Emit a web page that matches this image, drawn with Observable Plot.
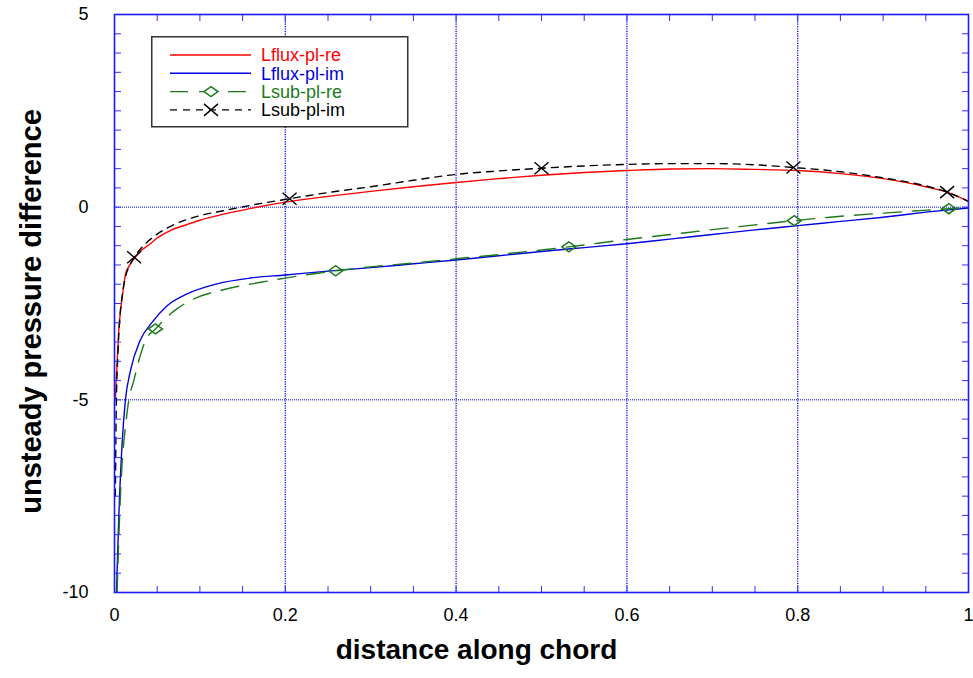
<!DOCTYPE html>
<html>
<head>
<meta charset="utf-8">
<script src="https://cdn.jsdelivr.net/npm/d3@7"></script>
<script src="https://cdn.jsdelivr.net/npm/@observablehq/plot@0.6"></script>
<style>
  body { margin: 0; background: #fff; }
  #wrap { position: relative; width: 973px; height: 678px; }
  #legend { position: absolute; left: 151px; top: 36px; }
</style>
</head>
<body>
<div id="wrap"></div>
<script>
// Unsteady pressure difference along the chord, four solutions
const fluxReX = [0.001, 0.002, 0.003, 0.005, 0.007, 0.009, 0.013, 0.018, 0.023, 0.03, 0.042, 0.05, 0.066, 0.085, 0.1, 0.128, 0.16, 0.2, 0.25, 0.3, 0.35, 0.4, 0.45, 0.5, 0.55, 0.6, 0.65, 0.7, 0.75, 0.8, 0.85, 0.9, 0.95, 0.975, 1.0];
const fluxReY = [-5.0, -4.5, -4.07, -3.2, -2.7, -2.34, -1.73, -1.5, -1.34, -1.15, -0.95, -0.8, -0.6, -0.45, -0.34, -0.18, -0.03, 0.13, 0.28, 0.41, 0.53, 0.64, 0.74, 0.83, 0.9, 0.95, 0.99, 1.0, 0.98, 0.95, 0.87, 0.74, 0.53, 0.39, 0.15];

const fluxImX = [0.0023, 0.005, 0.009, 0.0128, 0.0187, 0.03, 0.044, 0.062, 0.085, 0.12, 0.159, 0.2, 0.25, 0.3, 0.35, 0.4, 0.45, 0.5, 0.55, 0.6, 0.65, 0.7, 0.75, 0.8, 0.85, 0.9, 0.95, 1.0];
const fluxImY = [-10, -8.05, -6.1, -5.0, -4.24, -3.46, -2.99, -2.55, -2.25, -1.99, -1.84, -1.76, -1.66, -1.57, -1.47, -1.37, -1.26, -1.15, -1.05, -0.95, -0.83, -0.71, -0.59, -0.48, -0.37, -0.26, -0.13, -0.02];

const subReX = [0.003, 0.005, 0.008, 0.0105, 0.0128, 0.0168, 0.0226, 0.0285, 0.0363, 0.048, 0.06, 0.073, 0.093, 0.124, 0.171, 0.2, 0.259, 0.3, 0.35, 0.4, 0.45, 0.532, 0.6, 0.674, 0.75, 0.796, 0.838, 0.897, 0.936, 0.977, 1.0];
const subReY = [-10, -8.6, -7.0, -6.2, -5.7, -5.0, -4.5, -3.98, -3.46, -3.16, -2.88, -2.64, -2.38, -2.16, -1.95, -1.84, -1.65, -1.55, -1.45, -1.34, -1.23, -1.03, -0.84, -0.65, -0.46, -0.35, -0.26, -0.16, -0.1, -0.04, 0.0];
const subReMarkX = [0.048, 0.259, 0.532, 0.796, 0.977];
const subReMarkY = [-3.16, -1.65, -1.03, -0.35, -0.04];

const subImX = [0.001, 0.002, 0.004, 0.006, 0.009, 0.013, 0.018, 0.023, 0.034, 0.05, 0.069, 0.1, 0.128, 0.16, 0.205, 0.25, 0.3, 0.35, 0.4, 0.45, 0.5, 0.55, 0.6, 0.65, 0.7, 0.75, 0.795, 0.85, 0.9, 0.95, 0.975, 1.0];
const subImY = [-7.5, -5.3, -3.8, -2.95, -2.3, -1.8, -1.5, -1.3, -1.0, -0.7, -0.46, -0.22, -0.09, 0.05, 0.22, 0.38, 0.53, 0.7, 0.85, 0.94, 1.01, 1.07, 1.11, 1.13, 1.13, 1.1, 1.03, 0.92, 0.76, 0.55, 0.39, 0.15];
const subImMarkX = [0.023, 0.205, 0.5, 0.795, 0.975];
const subImMarkY = [-1.3, 0.22, 1.01, 1.03, 0.39];

const seriesNames = ["Lflux-pl-re", "Lflux-pl-im", "Lsub-pl-re", "Lsub-pl-im"];
const seriesColors = ["#ff0000", "#0000e0", "#1b7a1b", "#000000"];
const seriesDash = [null, null, "18,11", "7,6"];

const xTicks = [0, 0.2, 0.4, 0.6, 0.8, 1];
const yTicks = [5, 0, -5, -10];
const xGrid = [0.2, 0.4, 0.6, 0.8];
const yGrid = [0, -5];
const xMinor = d3.range(0, 21).map(i => i * 0.05);
const yMinor = d3.range(0, 31).map(i => -10 + i * 0.5);

const xTitle = "distance along chord";
const yTitle = "unsteady pressure difference";

const FONT = "'Liberation Sans', Arial, Helvetica, sans-serif";
const frameBlue = "#1a1aff";

const zip = (xs, ys) => xs.map((x, i) => ({x, y: ys[i]}));

// Open, wide diamond and a cross used as line markers
const wideDiamond = {
  draw(ctx) {
    ctx.moveTo(-7, 0); ctx.lineTo(0, -5); ctx.lineTo(7, 0); ctx.lineTo(0, 5); ctx.closePath();
  }
};
const wideCross = {
  draw(ctx) {
    ctx.moveTo(-7, -6); ctx.lineTo(7, 6);
    ctx.moveTo(-7, 6); ctx.lineTo(7, -6);
  }
};

const lineData = [zip(fluxReX, fluxReY), zip(fluxImX, fluxImY), zip(subReX, subReY), zip(subImX, subImY)];

const chart = Plot.plot({
  width: 973,
  height: 678,
  marginLeft: 114,
  marginRight: 5,
  marginTop: 14,
  marginBottom: 86,
  style: {fontFamily: FONT, background: "#fff", color: "#000"},
  x: {domain: [0, 1]},
  y: {domain: [-10, 5]},
  marks: [
    Plot.gridX(xGrid, {stroke: "#0000ff", strokeOpacity: 1, strokeWidth: 1.3, strokeDasharray: "1.2,1.2"}),
    Plot.gridY(yGrid, {stroke: "#0000ff", strokeOpacity: 1, strokeWidth: 1, strokeDasharray: "1,1"}),
    ...lineData.map((d, i) => Plot.line(d, {
      x: "x", y: "y", curve: "monotone-x", clip: true,
      stroke: seriesColors[i], strokeWidth: 1.4,
      strokeDasharray: seriesDash[i]
    })),
    Plot.dot(zip(subReMarkX, subReMarkY), {x: "x", y: "y", symbol: wideDiamond, stroke: seriesColors[2], strokeWidth: 1.5, fill: "none"}),
    Plot.dot(zip(subImMarkX, subImMarkY), {x: "x", y: "y", symbol: wideCross, stroke: seriesColors[3], strokeWidth: 1.4, fill: "none"}),
    // inward minor ticks on all four sides
    Plot.axisX(xMinor, {anchor: "bottom", tickSize: -6, tickFormat: () => "", label: null, stroke: "#3030ff"}),
    Plot.axisX(xMinor, {anchor: "top", tickSize: -6, tickFormat: () => "", label: null, stroke: "#3030ff"}),
    Plot.axisY(yMinor, {anchor: "left", tickSize: -7, tickFormat: () => "", label: null, stroke: "#3030ff"}),
    Plot.axisY(yMinor, {anchor: "right", tickSize: -7, tickFormat: () => "", label: null, stroke: "#3030ff"}),
    // labelled ticks
    Plot.axisX(xTicks, {anchor: "bottom", tickSize: 0, tickPadding: 16, fontSize: 18, tickFormat: d => String(d), label: null}),
    Plot.axisY(yTicks, {anchor: "left", tickSize: 0, tickPadding: 26, fontSize: 18, tickFormat: d => String(d), label: null}),
    Plot.frame({stroke: frameBlue, strokeWidth: 1.6}),
    Plot.text([xTitle], {text: d => d, frameAnchor: "bottom", dx: -65, dy: 66, fontSize: 28, fontWeight: "bold", fill: "#000"}),
    Plot.text([yTitle], {text: d => d, frameAnchor: "left", textAnchor: "middle", dx: -83, dy: 8, rotate: -90, fontSize: 29, fontWeight: "bold", fill: "#000"})
  ]
});

const wrap = document.getElementById("wrap");
wrap.appendChild(chart);

// Legend box drawn over the plot area
const lg = d3.select(wrap).append("svg")
  .attr("id", "legend")
  .attr("width", 259).attr("height", 93)
  .style("font-family", FONT);
lg.append("rect").attr("x", 0.75).attr("y", 0.75).attr("width", 256).attr("height", 90)
  .attr("fill", "#fff").attr("stroke", "#333").attr("stroke-width", 1.5);
seriesNames.forEach((name, i) => {
  const y = 19 + i * 18.3;
  const g = lg.append("g").attr("transform", `translate(0,${y})`);
  g.append("line").attr("x1", 19).attr("x2", 100).attr("y1", 0).attr("y2", 0)
    .attr("stroke", seriesColors[i]).attr("stroke-width", 1.4)
    .attr("stroke-dasharray", seriesDash[i]);
  if (i === 2) {
    g.append("path").attr("transform", "translate(60,0)")
      .attr("d", "M-7,0L0,-5L7,0L0,5Z").attr("fill", "#fff").attr("stroke", seriesColors[i]).attr("stroke-width", 1.5);
  }
  if (i === 3) {
    g.append("path").attr("transform", "translate(60,0)")
      .attr("d", "M-7,-6L7,6M-7,6L7,-6").attr("fill", "none").attr("stroke", seriesColors[i]).attr("stroke-width", 1.4);
  }
  g.append("text").attr("x", 110).attr("y", 0).attr("dy", "0.35em")
    .attr("font-size", 18).attr("fill", seriesColors[i]).text(name);
});
</script>
</body>
</html>
